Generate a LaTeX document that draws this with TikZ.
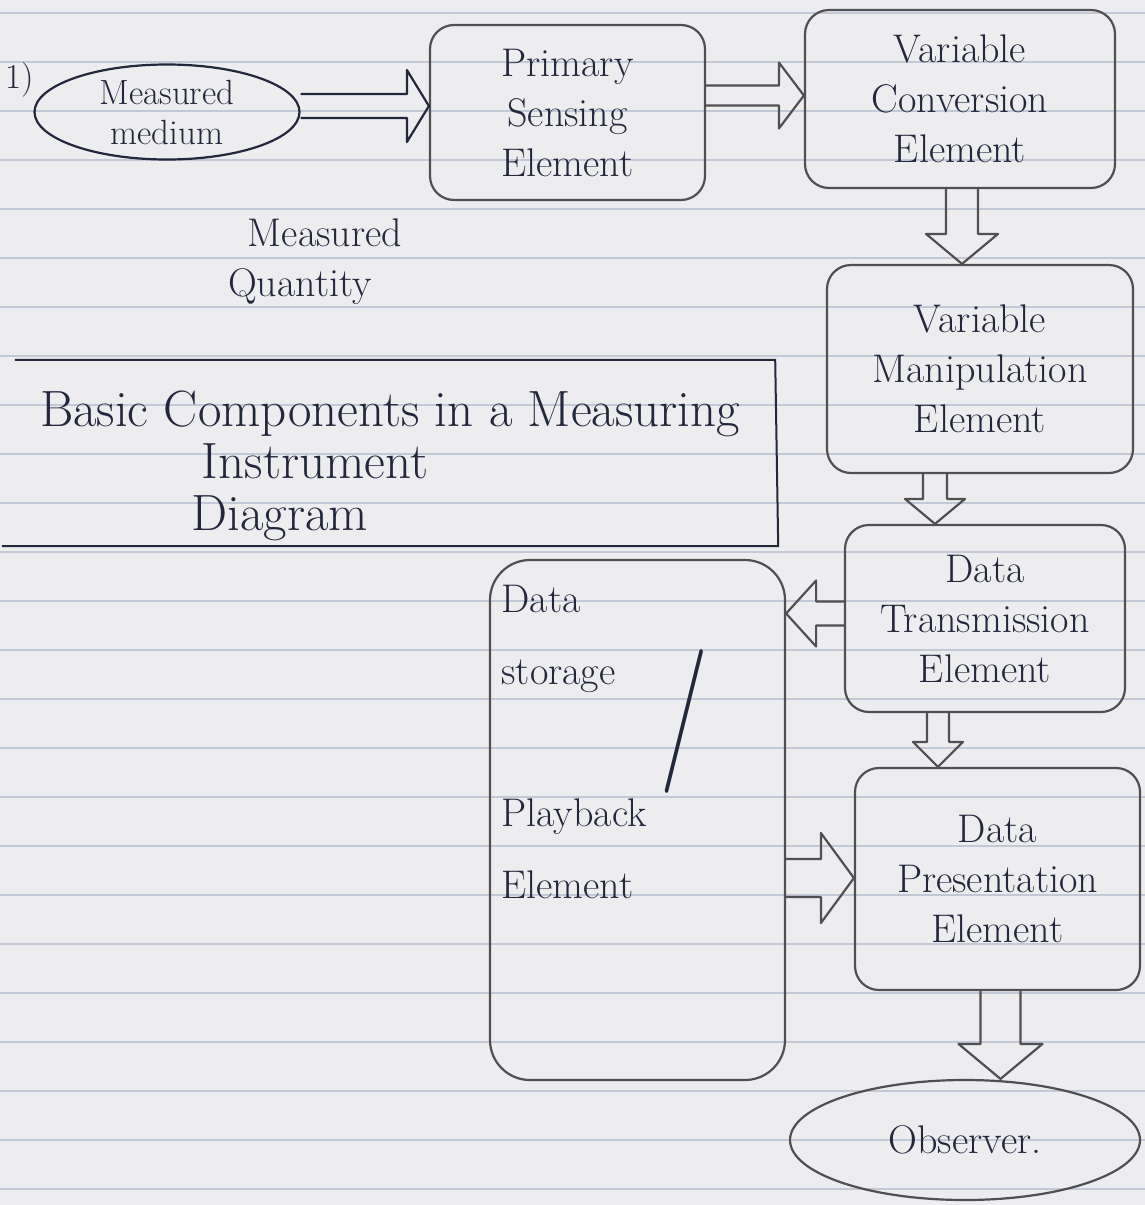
\documentclass[tikz,border=0pt]{standalone}
\usepackage{fontspec}
\usetikzlibrary{calc,shapes.geometric}
\definecolor{paper}{HTML}{EDEDF0}
\definecolor{ruling}{HTML}{C3C8D6}
\definecolor{ink}{HTML}{23273C}
\definecolor{pencil}{HTML}{505052}
\newcommand\hwfont{\fontsize{40}{50}\selectfont}
\newcommand\hwsmall{\fontsize{35}{40}\selectfont}
% block arrows: [style]{start}{target}{half shaft}{half head}{head length}
\newcommand\rarr[6][]{\draw[blk,#1] let \p1=(#2), \p2=(#3) in
  (\x1,\y1+#4pt) -- (\x2-#6pt,\y1+#4pt) -- (\x2-#6pt,\y1+#5pt) -- (\x2,\y1)
  -- (\x2-#6pt,\y1-#5pt) -- (\x2-#6pt,\y1-#4pt) -- (\x1,\y1-#4pt);}
\newcommand\larr[6][]{\draw[blk,#1] let \p1=(#2), \p2=(#3) in
  (\x1,\y1+#4pt) -- (\x2+#6pt,\y1+#4pt) -- (\x2+#6pt,\y1+#5pt) -- (\x2,\y1)
  -- (\x2+#6pt,\y1-#5pt) -- (\x2+#6pt,\y1-#4pt) -- (\x1,\y1-#4pt);}
\newcommand\darr[6][]{\draw[blk,#1] let \p1=(#2), \p2=(#3) in
  (\x1-#4pt,\y1) -- (\x1-#4pt,\y2+#6pt) -- (\x1-#5pt,\y2+#6pt) -- (\x1,\y2)
  -- (\x1+#5pt,\y2+#6pt) -- (\x1+#4pt,\y2+#6pt) -- (\x1+#4pt,\y1);}
\begin{document}
\begin{tikzpicture}[x=1pt,y=-1pt,
  box/.style={draw=pencil, line width=2.2pt, rounded corners=24pt, text=ink,
    font=\hwfont, align=center, inner sep=4pt},
  ell/.style={ellipse, draw=pencil, line width=2.2pt, text=ink, align=center},
  blk/.style={draw=pencil, line width=2.2pt, line join=round},
  inklabel/.style={text=ink, align=center},
  ruleline/.style={draw=ruling, line width=1.2pt}]
\useasboundingbox (0,0) rectangle (1145,1205);
\fill[paper] (0,0) rectangle (1145,1205);
\foreach \k in {0,...,24} \draw[ruleline] (0,13+49*\k) -- (1145,13+49*\k);

% nodes
\node[inklabel, font=\hwsmall] (one) at (20,80) {1)};
\node[ell, draw=ink, font=\hwsmall, inner sep=0pt, minimum width=265pt, minimum height=95pt] (mm) at (167,112) {Measured\\medium};
\node[box, minimum width=275pt, minimum height=175pt] (prim) at (567.5,112.5) {Primary\\Sensing\\Element};
\node[box, minimum width=310pt, minimum height=178pt] (vce) at (960,99) {Variable\\Conversion\\Element};
\node[box, minimum width=306pt, minimum height=208pt] (vme) at (980,369) {Variable\\Manipulation\\Element};
\node[box, minimum width=280pt, minimum height=187pt] (dte) at (985,618.5) {Data\\Transmission\\Element};
\node[box, rounded corners=40pt, minimum width=295pt, minimum height=520pt, inner sep=0pt] (dsp) at (637.5,820)
  {\parbox[c][470pt][t]{272pt}{\raggedright\fontsize{40}{72}\selectfont
   Data\\storage\smash{\hspace{45pt}\raisebox{-73pt}{\scalebox{2.6}[3.6]{/}}}\\[70pt]
   Playback\\Element}};
\node[box, minimum width=285pt, minimum height=222pt] (dpe) at (997.5,879) {Data\\Presentation\\Element};
\node[ell, font=\hwfont, minimum width=350pt, minimum height=120pt] (obs) at (965,1140) {Observer.};

\node[inklabel, font=\hwfont] (mq) at (325,262) {Measured\\\hspace*{-50pt}Quantity};

\node[inklabel, font=\fontsize{51}{52}\selectfont, minimum width=776pt, minimum height=188pt] (tt) at (390,466)
  {Basic Components in a Measuring\\\hspace*{-150pt}Instrument\\\hspace*{-220pt}Diagram};
\draw[ink, line width=2pt] ($(tt.north west)+(13,-12)$) -- ($(tt.north east)+(-3,-12)$) -- ($(tt.south east)+(0,-14)$) -- ($(tt.south west)+(0,-14)$);

% block arrows
\rarr[draw=ink]{$(mm.east)+(0,-6)$}{prim.west}{12}{36}{22}
\rarr{$(prim.east)+(0,-17)$}{vce.west}{10}{33}{25}
\darr{$(vce.south)+(2,0)$}{vme.north}{16}{36}{30}
\darr{$(vme.south)+(-45,0)$}{dte.north}{12}{30}{25}
\larr{$(dte.west)+(0,-5)$}{dsp.east}{12}{33}{30}
\darr{$(dte.south)+(-47,0)$}{dpe.north}{11}{25}{25}
\rarr{$(dsp.east)+(0,58)$}{dpe.west}{19}{45}{33}
\darr{$(dpe.south)+(3,0)$}{obs.north}{20}{42}{35}
\end{tikzpicture}
\end{document}
